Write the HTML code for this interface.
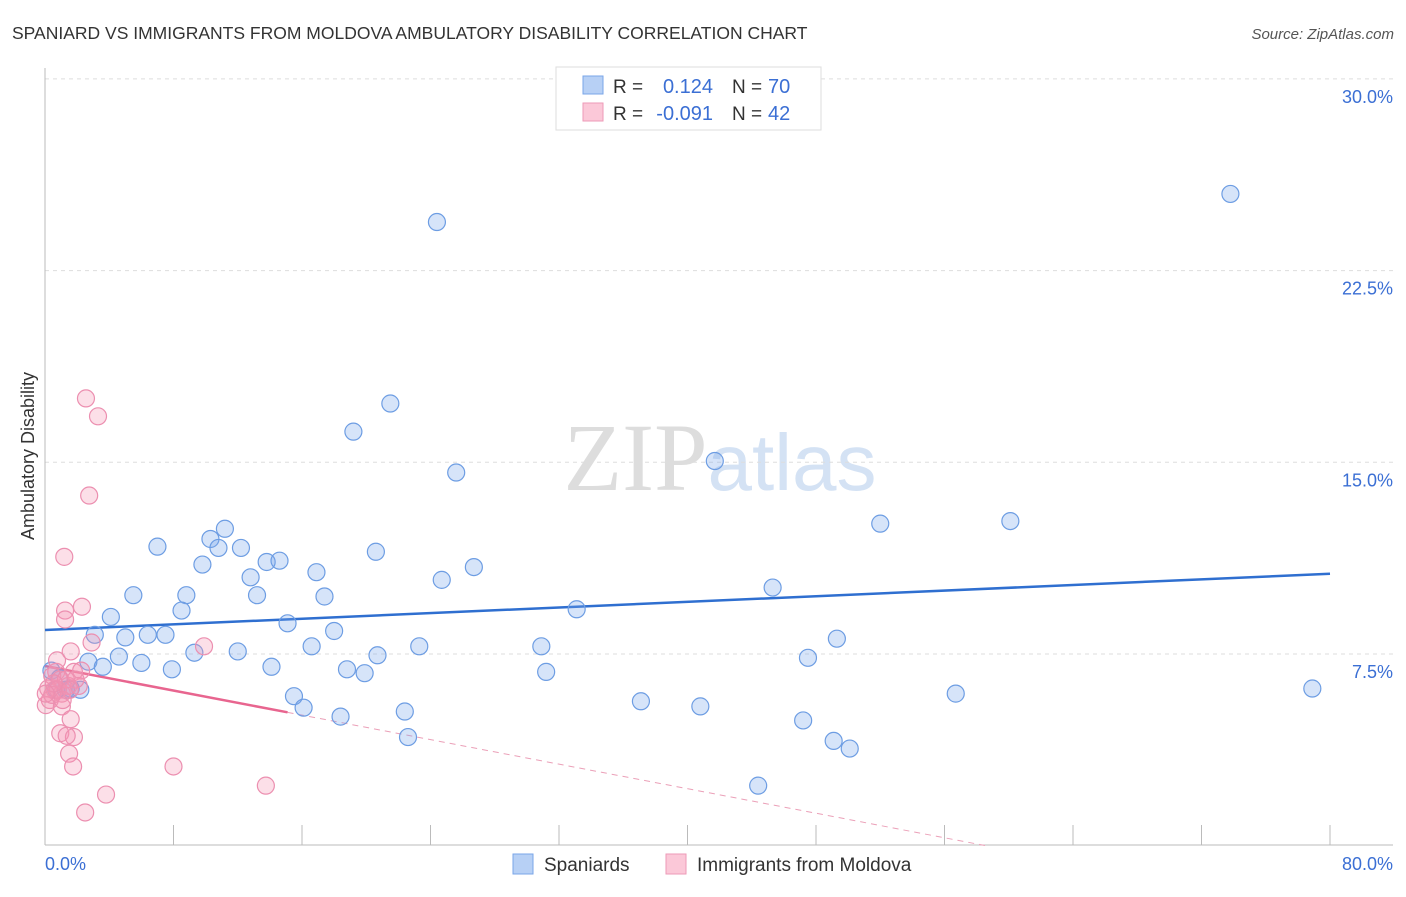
<!DOCTYPE html>
<html><head><meta charset="utf-8"><style>
body{margin:0;background:#fff;font-family:"Liberation Sans",sans-serif;}
svg text{font-family:"Liberation Sans",sans-serif;}
</style></head><body>
<svg id="chart" width="1406" height="892" xmlns="http://www.w3.org/2000/svg">
<text x="12" y="39" font-size="17.5" fill="#333">SPANIARD VS IMMIGRANTS FROM MOLDOVA AMBULATORY DISABILITY CORRELATION CHART</text>
<text x="1394" y="39" font-size="15" fill="#555" font-style="italic" text-anchor="end">Source: ZipAtlas.com</text>
<text x="720" y="490" font-size="96" text-anchor="middle"><tspan font-family="Liberation Serif" fill="#ddd">ZIP</tspan><tspan fill="#d4e2f4" font-size="80">atlas</tspan></text>
<g id="grid"></g><g id="axes"></g><g id="lines"></g><g id="pts"></g>
<text transform="translate(34,456) rotate(-90)" font-size="18" fill="#333" text-anchor="middle">Ambulatory Disability</text>
<g>
<rect x="556" y="67" width="265" height="63" fill="#fff" stroke="#ddd"/>
<rect x="583" y="76" width="20" height="18" fill="#b7d0f5" stroke="#7aa6e8"/>
<rect x="583" y="103" width="20" height="18" fill="#fbc8d8" stroke="#ee9ab7"/>
<text x="613" y="93" font-size="19" fill="#333">R = </text><text x="713" y="93" font-size="20" fill="#3b6fd4" text-anchor="end">0.124</text>
<text x="732" y="93" font-size="19" fill="#333">N = </text><text x="768" y="93" font-size="20" fill="#3b6fd4">70</text>
<text x="613" y="120" font-size="19" fill="#333">R = </text><text x="713" y="120" font-size="20" fill="#3b6fd4" text-anchor="end">-0.091</text>
<text x="732" y="120" font-size="19" fill="#333">N = </text><text x="768" y="120" font-size="20" fill="#3b6fd4">42</text>
</g>
<g>
<rect x="513" y="854" width="20" height="20" fill="#b7d0f5" stroke="#7aa6e8"/>
<text x="544" y="871" font-size="19" fill="#333">Spaniards</text>
<rect x="666" y="854" width="20" height="20" fill="#fbc8d8" stroke="#ee9ab7"/>
<text x="697" y="871" font-size="19" fill="#333">Immigrants from Moldova</text>
</g>
</svg>
<script>
const yTicks=[7.5,15,22.5,30];
const yTickLabels=["7.5%","15.0%","22.5%","30.0%"];
const xTicks=[0,8,16,24,32,40,48,56,64,72,80];
const blueX=[24.4,73.8,21.5,19.2,25.6,41.7,52.0,60.1,11.2,10.3,7.0,12.2,10.8,20.6,13.8,14.6,9.8,12.8,16.9,24.7,26.7,45.3,5.5,8.8,13.2,17.4,8.5,4.1,33.1,15.1,3.1,5.0,6.4,7.5,18.0,49.3,30.9,9.3,12.0,16.6,23.3,20.7,4.6,6.0,2.7,3.6,7.9,14.1,18.8,19.9,31.2,47.5,0.4,0.9,1.3,2.2,1.6,0.7,78.9,56.7,37.1,40.8,15.5,16.1,18.4,22.4,47.2,22.6,49.1,50.1,44.4];
const blueY=[24.4,25.5,17.3,16.2,14.6,15.05,12.6,12.7,12.4,12.0,11.7,11.65,11.65,11.5,11.1,11.15,11.0,10.5,10.7,10.4,10.9,10.1,9.8,9.8,9.8,9.75,9.2,8.95,9.25,8.7,8.25,8.15,8.25,8.25,8.4,8.1,7.8,7.55,7.6,7.8,7.8,7.45,7.4,7.15,7.2,7.0,6.9,7.0,6.9,6.75,6.8,7.35,6.85,6.55,6.1,6.1,6.15,6.1,6.15,5.95,5.65,5.45,5.85,5.4,5.05,5.25,4.9,4.25,4.1,3.8,2.35];
const pinkX=[2.55,3.3,2.75,1.2,1.25,2.3,1.25,2.9,9.9,1.6,0.7,1.8,2.25,0.45,0.95,0.2,0.6,1.05,1.45,2.1,0.3,0.05,1.05,1.6,0.95,1.8,1.35,1.5,1.75,8.0,3.8,13.75,2.5,0.8,0.45,1.3,1.9,0.75,1.1,0.55,0.05,1.55];
const pinkY=[17.5,16.8,13.7,11.3,9.2,9.35,8.85,7.95,7.8,7.6,6.8,6.8,6.85,6.65,6.5,6.15,6.1,5.95,6.25,6.25,5.7,5.5,5.45,4.95,4.4,4.25,4.3,3.6,3.1,3.1,2.0,2.35,1.3,6.1,5.9,6.5,6.5,7.25,5.7,6.35,5.95,6.1];
const blueTrend=[8.44,10.64]; // y at x=0 and x=80
const pinkTrend=[7.03,-0.12]; // intercept, slope
const pinkSolidEnd=15.1;
const NS="http://www.w3.org/2000/svg";
const X=v=>45+v/80*1285, Y=v=>845.7-v/7.5*191.7;
function mk(tag,attrs,parent){const e=document.createElementNS(NS,tag);for(const k in attrs)e.setAttribute(k,attrs[k]);document.getElementById(parent).appendChild(e);return e;}
yTicks.forEach((t,i)=>{
 const g=mk('line',{x1:45,x2:1393,y1:Y(t),y2:Y(t),stroke:'#ddd','stroke-dasharray':'4,4'},'grid');
 
 
 const l=mk('text',{x:1393,y:Y(t)+24,'font-size':18,fill:'#3b6fd4','text-anchor':'end'},'grid');
 l.textContent=yTickLabels[i];
 
 
});
const ax=mk('line',{x1:45,x2:45,y1:68,y2:845,stroke:'#bbb'},'axes');


const bx=mk('line',{x1:45,x2:1393,y1:845,y2:845,stroke:'#bbb'},'axes');


xTicks.forEach(t=>{const tk=mk('line',{x1:X(t),x2:X(t),y1:825,y2:845,stroke:'#bbb'},'axes');
 
 });
const x0=mk('text',{x:45,y:870,'font-size':18,fill:'#3b6fd4'},'axes');x0.textContent='0.0%';


const x1=mk('text',{x:1393,y:870,'font-size':18,fill:'#3b6fd4','text-anchor':'end'},'axes');x1.textContent='80.0%';


const bl=mk('line',{x1:X(0),y1:Y(blueTrend[0]),x2:X(80),y2:Y(blueTrend[1]),stroke:'#2f6fd0','stroke-width':2.5},'lines');


const pY=x=>pinkTrend[0]+pinkTrend[1]*x;
const pl=mk('line',{x1:X(0),y1:Y(pY(0)),x2:X(pinkSolidEnd),y2:Y(pY(pinkSolidEnd)),stroke:'#e8658f','stroke-width':2.5},'lines');


const xEnd=-pinkTrend[0]/pinkTrend[1];
const pd=mk('line',{x1:X(pinkSolidEnd),y1:Y(pY(pinkSolidEnd)),x2:X(xEnd),y2:Y(0),stroke:'#eba0b8','stroke-width':1,'stroke-dasharray':'6,5'},'lines');


blueX.forEach((x,i)=>{const c=mk('circle',{cx:X(x),cy:Y(blueY[i]),r:8.5,fill:'rgba(120,165,235,0.3)',stroke:'#6d9de3','stroke-width':1.2},'pts');
 
 });
pinkX.forEach((x,i)=>{const c=mk('circle',{cx:X(x),cy:Y(pinkY[i]),r:8.5,fill:'rgba(245,150,180,0.3)',stroke:'#ec8fb0','stroke-width':1.2},'pts');
 
 });
</script>
</body></html>
